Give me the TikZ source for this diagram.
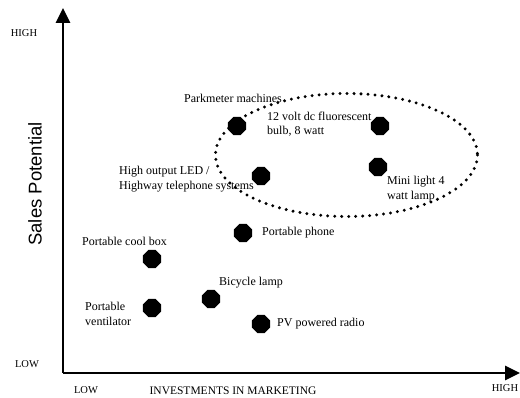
\documentclass[tikz,border=0pt]{standalone}
\usepackage{fontspec}
\setmainfont{Liberation Serif}
\setsansfont{Liberation Sans}
\usepackage{tikz}
\usetikzlibrary{arrows.meta,shapes.geometric}

\begin{document}
\begin{tikzpicture}[x=1pt,y=-1pt,>={Triangle[length=15pt,width=14pt]},
  dot/.style={regular polygon,regular polygon sides=8,fill=black,
    minimum size=19.5pt,inner sep=0pt},
  lab/.style={font=\fontsize{12}{14.5}\selectfont,anchor=west,align=left,inner sep=0pt},
  lev/.style={font=\fontsize{10.5}{12}\selectfont,inner sep=0pt}]
  \useasboundingbox (0,0) rectangle (520,398);
  % axes
  \coordinate (orig) at (63,373);
  \coordinate (ytip) at (63,8);
  \coordinate (xtip) at (520,373);
  \draw[->,line width=2.6pt] (orig)--(ytip);
  \draw[->,line width=2.6pt] (orig)--(xtip);
  \node[lev] (yhigh) at (24,33) {HIGH};
  \node[lev] (ylow) at (27,364) {LOW};
  \node[lev] (xlow) at (86,390) {LOW};
  \node[lev] (xhigh) at (505,388) {HIGH};
  \node[font=\fontsize{11.5}{13}\selectfont,inner sep=0pt] (xlab) at (233,391)
    {INVESTMENTS IN MARKETING};
  \node[font=\sffamily\fontsize{18.5}{20}\selectfont,rotate=90,inner sep=0pt]
    (ylab) at (35,184) {Sales Potential};
  % cluster
  \draw[line width=3.3pt,line cap=round,dash pattern=on 0pt off 7pt]
    (346.5,155) ellipse (131 and 61.5);
  % products
  \node[dot] (park) at (237,126) {};
  \node[dot] (volt) at (380,126) {};
  \node[dot] (mini) at (378,167) {};
  \node[dot] (led) at (261,176) {};
  \node[dot] (phone) at (243,233) {};
  \node[dot] (cool) at (152,259) {};
  \node[dot] (vent) at (152,308) {};
  \node[dot] (bike) at (211,299) {};
  \node[dot] (radio) at (261,324) {};
  \node[lab] (parkl) at (184,98) {Parkmeter machines};
  \node[lab] (voltl) at (267,124) {12 volt dc fluorescent\\bulb, 8 watt};
  \node[lab] (ledl) at (119,179) {High output LED /\\Highway telephone systems};
  \node[lab] (minil) at (387,189) {Mini light 4\\watt lamp};
  \node[lab] (phonel) at (262,233) {Portable phone};
  \node[lab] (cooll) at (82,241) {Portable cool box};
  \node[lab] (bikel) at (219,283) {Bicycle lamp};
  \node[lab] (ventl) at (85,314) {Portable\\ventilator};
  \node[lab] (radiol) at (277,324) {PV powered radio};
\end{tikzpicture}
\end{document}
